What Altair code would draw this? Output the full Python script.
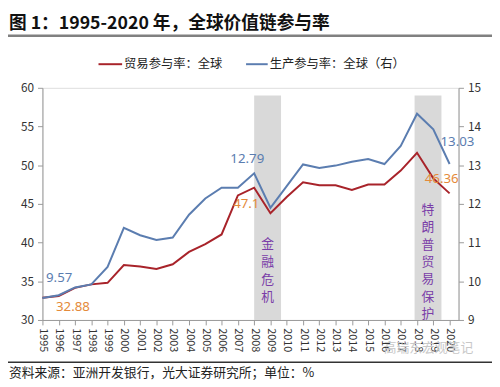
import altair as alt
import pandas as pd

years = list(range(1995, 2021))
trade = [32.88, 33.1, 34.15, 34.6, 34.8, 37.1, 36.9, 36.6, 37.2, 38.8, 39.8, 41.05, 46.1,
         47.1, 43.8, 45.9, 47.8, 47.4, 47.4, 46.8, 47.5, 47.5, 49.3, 51.6, 48.3, 46.36]
prod = [9.57, 9.64, 9.84, 9.92, 10.37, 11.38, 11.19, 11.07, 11.13, 11.72, 12.14, 12.42, 12.42,
        12.79, 11.9, 12.46, 13.02, 12.93, 12.99, 13.09, 13.16, 13.03, 13.5, 14.33, 13.93, 13.03]
band_start = [2008.0, 2017.85]
band_end = [2009.65, 2019.5]
band_top = [59, 59]
band_text = ["金融危机", "特朗普贸易保护"]
series_names = ["贸易参与率：全球", "生产参与率：全球（右）"]
title_text = "图 1：1995-2020 年，全球价值链参与率"
source_text = "资料来源：亚洲开发银行，光大证券研究所；单位：%"
watermark = "高瑞东宏观笔记"

RED = "#A8232A"
BLUE = "#5B7DB0"
ORANGE = "#E48A3A"
PURPLE = "#7A3DA8"
FONT = "Noto Sans CJK SC"

df = pd.DataFrame({"year": years, "trade": trade, "prod": prod})
df["trade_lbl"] = [f"{v:g}" for v in trade]
df["prod_lbl"] = [f"{v:.2f}" for v in prod]
bands = pd.DataFrame({"year": band_start, "x2": band_end, "top": band_top,
                      "bottom": [30, 30], "label": band_text})
bands["mid"] = (bands["year"] + bands["x2"]) / 2
one = pd.DataFrame({"a": [0]})

xscale = alt.Scale(domain=[1995, 2020.55], nice=False, zero=False)
xaxis = alt.Axis(values=years, format="d", labelAngle=90, labelAlign="left",
                 labelBaseline="middle", labelFontSize=11, labelColor="#333",
                 tickSize=5, tickColor="#999", domainColor="#999",
                 labelPadding=3, grid=False, title=None, labelFlush=False,
                 labelOverlap=False)

def X(field):
    return alt.X(f"{field}:Q", scale=xscale, axis=xaxis)

left_axis = alt.Axis(values=list(range(30, 61, 5)), orient="left", tickSize=5,
                     tickColor="#999", domainColor="#999", labelFontSize=12,
                     labelColor="#333", labelPadding=4, grid=False, title=None)
right_axis = alt.Axis(values=list(range(9, 16)), orient="right", tickSize=5,
                      tickColor="#999", domainColor="#999", labelFontSize=12,
                      labelColor="#333", labelPadding=4, grid=False, title=None)
lscale = alt.Scale(domain=[30, 60], nice=False, zero=False)
rscale = alt.Scale(domain=[9, 15], nice=False, zero=False)

band_rect = alt.Chart(bands).mark_rect(color="#D9D9D9").encode(
    x=X("year"),
    x2="x2:Q",
    y=alt.Y("top:Q", scale=lscale, axis=left_axis),
    y2="bottom:Q",
)

# vertical band annotations, one character per line
band_txt_layers = []
for bi, (start_px, step) in enumerate([(159, 18), (124, 17.7)]):
    row = bands.iloc[[bi]]
    for ci, ch in enumerate(band_text[bi]):
        band_txt_layers.append(
            alt.Chart(row).mark_text(color=PURPLE, fontSize=13, font=FONT,
                                     baseline="middle", align="center").encode(
                x=X("mid"), y=alt.value(start_px + ci * step), text=alt.value(ch)))

red_line = alt.Chart(df).mark_line(color=RED, strokeWidth=2).encode(
    x=X("year"), y=alt.Y("trade:Q", scale=lscale, axis=left_axis))

def lbl(data, field, txtfield, scale, axis, color, dx, dy, size=13.5):
    return alt.Chart(data).mark_text(color=color, fontSize=size, font="Noto Sans",
                                     dx=dx, dy=dy, align="center", baseline="middle").encode(
        x=X("year"), y=alt.Y(f"{field}:Q", scale=scale, axis=axis), text=f"{txtfield}:N")

red_lbls = alt.layer(
    lbl(df[df.year == 1995], "trade", "trade_lbl", lscale, left_axis, ORANGE, 31, 10),
    lbl(df[df.year == 2008], "trade", "trade_lbl", lscale, left_axis, ORANGE, -8, 17),
    lbl(df[df.year == 2020], "trade", "trade_lbl", lscale, left_axis, ORANGE, -8, -15),
)

blue_line = alt.Chart(df).mark_line(color=BLUE, strokeWidth=2).encode(
    x=X("year"), y=alt.Y("prod:Q", scale=rscale, axis=right_axis))
blue_lbls = alt.layer(
    lbl(df[df.year == 1995], "prod", "prod_lbl", rscale, right_axis, BLUE, 17, -20),
    lbl(df[df.year == 2008], "prod", "prod_lbl", rscale, right_axis, BLUE, -7, -14),
    lbl(df[df.year == 2020], "prod", "prod_lbl", rscale, right_axis, BLUE, 8, -22),
)

def txt(s, x, y, size=12, color="#222", weight="normal", align="left"):
    return alt.Chart(one).mark_text(fontSize=size, color=color, font=FONT, fontWeight=weight,
                                    align=align, baseline="middle").encode(
        x=alt.value(x), y=alt.value(y), text=alt.value(s))

def rule(x1, x2, y, color, w):
    return alt.Chart(one).mark_rule(color=color, strokeWidth=w).encode(
        x=alt.value(x1), x2=alt.value(x2), y=alt.value(y))

deco = alt.layer(
    txt(title_text, -34, -65, size=18, color="#111", weight="bold"),
    rule(-35, 457, -53, "#808080", 2.5),
    rule(57, 81, -24, RED, 2),
    txt(series_names[0], 83, -24, size=12.5),
    rule(207, 229, -24, BLUE, 2),
    txt(series_names[1], 231, -24, size=12.5),
    rule(-35, 457, 279, "#333", 1.5),
    txt(source_text, -34, 290, size=13),
    txt(watermark, 347, 265, size=13, color="#C8C8C8"),
)

left = alt.layer(band_rect, red_line, red_lbls, *band_txt_layers, deco)
right = alt.layer(blue_line, blue_lbls)

chart = alt.layer(left, right).resolve_scale(y="independent").properties(
    width=423, height=236,
    padding={"left": 35, "top": 78, "right": 34, "bottom": 65},
    autosize=alt.AutoSizeParams(type="none"),
).configure_view(stroke=None).configure(font=FONT)

chart.save("out.html", embed_options={"renderer": "svg", "actions": False})
